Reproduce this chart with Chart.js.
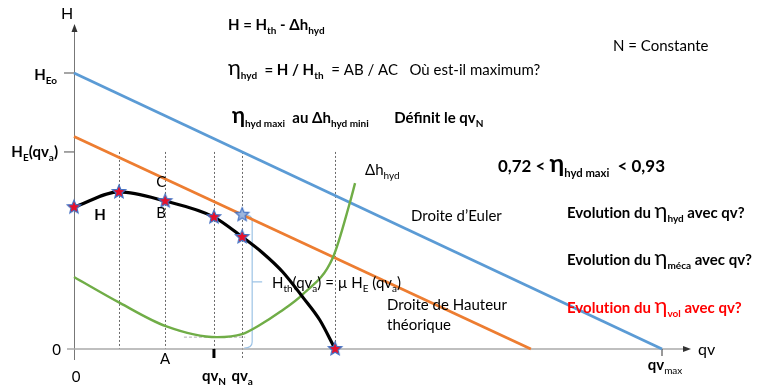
<!DOCTYPE html>
<html><head><meta charset="utf-8">
<script src="https://cdn.jsdelivr.net/npm/chart.js@4"></script>
<style>html,body{margin:0;padding:0;background:#fff;overflow:hidden}canvas{display:block}</style>
</head><body>
<canvas id="c" width="762" height="385"></canvas>
<script>
// qv in % of qv_max, H in % of H_Eo
const eulerQv = [0, 100];            // Droite d'Euler
const eulerH = [100, 0];
const theoQv = [0, 77.7];            // Droite de Hauteur théorique
const theoH = [77, 0];
const headQv = [0, 7.65, 15.5, 23.8, 28.6, 32.1, 35.5, 38.9, 41.8, 44.4];   // courbe H
const headH = [51.4, 56.9, 53.6, 47.8, 40.6, 34.8, 27.9, 18.8, 10.5, 0];
const lossQv = [0, 7.8, 15.6, 24.3, 28.6, 31.6, 35.0, 38.8, 44.0, 46.9, 47.8]; // Δh_hyd
const lossH = [26.1, 16.7, 8.3, 4.3, 5.4, 8.7, 13.4, 19.6, 33.0, 52.9, 60.1];
const markedIdx = [0, 1, 2, 3, 4, 9];   // points marqués sur H
const guideIdx = [1, 2, 3, 4, 9];       // verticales pointillées
const idxA = 2, idxN = 3, idxQa = 4, idxLossMin = 3;

const pts = (xs, ys) => xs.map((x, i) => ({x, y: ys[i]}));
function lineAt(xs, ys, q) {
  const t = (q - xs[0]) / (xs[1] - xs[0]);
  return ys[0] + t * (ys[1] - ys[0]);
}
const qvN = headQv[idxN], qvA = headQv[idxQa];
const hEqa = lineAt(eulerQv, eulerH, qvA);
const hThqa = lineAt(theoQv, theoH, qvA);

function starImg(fill, stroke, r) {
  const s = Math.ceil(r * 2 + 4);
  const c = document.createElement('canvas');
  c.width = c.height = s;
  const g = c.getContext('2d');
  g.beginPath();
  for (let i = 0; i < 10; i++) {
    const rad = i % 2 ? r * 0.45 : r;
    const a = -Math.PI / 2 + i * Math.PI / 5;
    g.lineTo(s / 2 + rad * Math.cos(a), s / 2 + rad * Math.sin(a));
  }
  g.closePath();
  g.fillStyle = fill; g.fill();
  g.lineWidth = 1.2; g.strokeStyle = stroke; g.stroke();
  return c;
}
const redStar = starImg('#E8102A', '#4472C4', 7);
const blueStar = starImg('#9DB6DD', '#4472C4', 7);

const FONT = 'Lato, "Open Sans", sans-serif';
const ST = {
  r: {w: '400', s: 15, dy: 0}, b: {w: '700', s: 15, dy: 0},
  sr: {w: '400', s: 10, dy: 4}, sb: {w: '700', s: 10, dy: 4},
  e: {w: '400', s: 22, dy: 0}, eb: {w: '700', s: 22, dy: 0},
  big: {w: '400', s: 16, dy: 0}
};
const fnt = (st, k) => `${st.w} ${st.s * k}px ${FONT}`;
function richWidth(ctx, parts, k) {
  let w = 0;
  for (const [t, key] of parts) { ctx.font = fnt(ST[key], k); w += ctx.measureText(t).width; }
  return w;
}
function rich(ctx, x, y, parts, color = '#000', align = 'left', k = 1) {
  if (align !== 'left') { const w = richWidth(ctx, parts, k); x -= align === 'right' ? w : w / 2; }
  ctx.fillStyle = color; ctx.textAlign = 'left'; ctx.textBaseline = 'alphabetic';
  for (const [t, key] of parts) {
    const st = ST[key]; ctx.font = fnt(st, k);
    ctx.fillText(t, x, y + st.dy * k);
    x += ctx.measureText(t).width;
  }
}
const EVO = 'Evolut\u200Cion du ';

const axesPlugin = {
  id: 'axes',
  beforeDatasetsDraw(chart) {
    const {ctx, scales: {x, y}} = chart;
    const x0 = x.getPixelForValue(0), y0 = y.getPixelForValue(0);
    const yTop = y.getPixelForValue(hEqa);
    ctx.save();
    // verticales pointillées
    ctx.strokeStyle = '#444'; ctx.lineWidth = 0.8; ctx.setLineDash([2, 2]);
    for (const i of guideIdx) {
      const px = Math.round(x.getPixelForValue(headQv[i])) + 0.5;
      ctx.beginPath(); ctx.moveTo(px, yTop);
      ctx.lineTo(px, i === idxQa ? y0 + 11 : y0); ctx.stroke();
    }
    // palier mini de Δh
    ctx.strokeStyle = '#999'; ctx.setLineDash([3, 2]);
    const yMin = y.getPixelForValue(lossH[idxLossMin]);
    ctx.beginPath(); ctx.moveTo(x.getPixelForValue(qvN) - 30, yMin);
    ctx.lineTo(x.getPixelForValue(qvA) + 3, yMin); ctx.stroke();
    ctx.setLineDash([]);
    // axe H
    ctx.strokeStyle = '#777'; ctx.lineWidth = 1;
    ctx.beginPath(); ctx.moveTo(x0 + 0.5, y0 + 11); ctx.lineTo(x0 + 0.5, 30); ctx.stroke();
    ctx.fillStyle = '#333';
    ctx.beginPath(); ctx.moveTo(x0 + 0.5, 24); ctx.lineTo(x0 - 2.5, 32); ctx.lineTo(x0 + 3.5, 32); ctx.closePath(); ctx.fill();
    // axe qv
    ctx.strokeStyle = '#aaa'; ctx.lineWidth = 1.5;
    ctx.beginPath(); ctx.moveTo(67, y0); ctx.lineTo(684, y0); ctx.stroke();
    ctx.beginPath(); ctx.moveTo(691, y0); ctx.lineTo(683, y0 - 3); ctx.lineTo(683, y0 + 3); ctx.closePath(); ctx.fill();
    // graduations
    ctx.strokeStyle = '#888'; ctx.lineWidth = 1.5;
    for (const v of [100, hEqa]) {
      const py = y.getPixelForValue(v);
      ctx.beginPath(); ctx.moveTo(x0 - 10, py); ctx.lineTo(x0, py); ctx.stroke();
    }
    const xMax = x.getPixelForValue(eulerQv[1]);
    ctx.strokeStyle = '#333'; ctx.lineWidth = 1;
    ctx.beginPath(); ctx.moveTo(xMax, y0); ctx.lineTo(xMax, y0 + 7); ctx.stroke();
    const xn = x.getPixelForValue(qvN);
    ctx.strokeStyle = '#000'; ctx.lineWidth = 3;
    ctx.beginPath(); ctx.moveTo(xn, y0); ctx.lineTo(xn, y0 + 9); ctx.stroke();
    // accolade H_th(qv_a)
    const xa = x.getPixelForValue(qvA), yTh = y.getPixelForValue(hThqa);
    const yMid = (yTh + y0) / 2;
    ctx.strokeStyle = '#9DC3E6'; ctx.lineWidth = 1.2;
    ctx.beginPath();
    ctx.moveTo(xa + 2, yTh); ctx.quadraticCurveTo(xa + 10, yTh, xa + 10, yTh + 6);
    ctx.lineTo(xa + 10, y0 - 7); ctx.quadraticCurveTo(xa + 10, y0 - 1, xa + 2, y0 - 1);
    ctx.moveTo(xa + 10, yMid); ctx.lineTo(xa + 20, yMid);
    ctx.stroke();
    ctx.restore();
  }
};

const textPlugin = {
  id: 'texts',
  afterDraw(chart) {
    const {ctx, scales: {x, y}} = chart;
    const x0 = x.getPixelForValue(0), y0 = y.getPixelForValue(0);
    ctx.save();
    rich(ctx, 228, 30, [['H = H', 'b'], ['th', 'sb'], [' - Δh', 'b'], ['hyd', 'sb']]);
    rich(ctx, 228, 75, [['η', 'e'], ['hyd', 'sb'], ['  = H / H', 'b'], ['th', 'sb'], ['  = AB / AC   Où est-il maximum?', 'r']]);
    rich(ctx, 232, 123, [['η', 'eb'], ['hyd maxi', 'sb'], ['  au Δh', 'b'], ['hyd mini', 'sb'], ['       Définit le qv', 'b'], ['N', 'sb']]);
    rich(ctx, 613, 51, [['N = Constante', 'r']]);
    rich(ctx, 498, 172, [['0,72 < ', 'b'], ['η', 'eb'], ['hyd maxi', 'sb'], ['  < 0,93', 'b']], '#000', 'left', 1.13);
    rich(ctx, 411, 221, [['Droite d’Euler', 'r']]);
    rich(ctx, 387, 310, [['Droite de Hauteur', 'r']]);
    rich(ctx, 387, 330, [['théorique', 'r']]);
    rich(ctx, 567, 218, [[EVO, 'b'], ['η', 'e'], ['hyd', 'sb'], [' avec qv?', 'b']]);
    rich(ctx, 567, 265, [[EVO, 'b'], ['η', 'e'], ['méca', 'sb'], [' avec qv?', 'b']]);
    rich(ctx, 567, 313, [[EVO, 'b'], ['η', 'e'], ['vol', 'sb'], [' avec qv?', 'b']], '#FF0000');
    rich(ctx, 365, 175, [['Δh', 'r'], ['hyd', 'sr']]);
    rich(ctx, 272, 288, [['H', 'r'], ['th', 'sr'], ['(qv', 'r'], ['a', 'sr'], [') = µ H', 'r'], ['E', 'sr'], [' (qv', 'r'], ['a', 'sr'], [')', 'r']]);
    // repères sur la courbe
    const xA = x.getPixelForValue(headQv[idxA]);
    rich(ctx, 100, 220, [['H', 'b']], '#000', 'center');
    rich(ctx, xA - 4, 218, [['B', 'r']], '#000', 'center');
    rich(ctx, xA - 4, y.getPixelForValue(lineAt(theoQv, theoH, headQv[idxA])) + 8, [['C', 'r']], '#000', 'center');
    // axes
    rich(ctx, x0 - 7, 19, [['H', 'big']], '#000', 'center');
    rich(ctx, 698, y0 + 6, [['qv', 'big']]);
    rich(ctx, x0 - 17, y.getPixelForValue(100) + 7, [['H', 'b'], ['Eo', 'sb']], '#000', 'right');
    rich(ctx, x0 - 16, y.getPixelForValue(hEqa) + 5, [['H', 'b'], ['E', 'sb'], ['(qv', 'b'], ['a', 'sb'], [')', 'b']], '#000', 'right');
    rich(ctx, x0 - 13, y0 + 6, [['0', 'r']], '#000', 'right');
    rich(ctx, x0 + 2, y0 + 33, [['0', 'r']], '#000', 'center');
    rich(ctx, xA, y0 + 15, [['A', 'r']], '#000', 'center');
    rich(ctx, x.getPixelForValue(qvN), y0 + 32, [['qv', 'b'], ['N', 'sb']], '#000', 'center');
    rich(ctx, x.getPixelForValue(qvA), y0 + 32, [['qv', 'b'], ['a', 'sb']], '#000', 'center');
    rich(ctx, x.getPixelForValue(eulerQv[1]) + 3, y0 + 21, [['qv', 'b'], ['max', 'sr']], '#000', 'center');
    ctx.restore();
  }
};

// échelles : 0 de qv à x=74 px, 0 de H à y=349 px
const PX_PER_QV = 5.88, PX_PER_H = 2.76;
const X_MIN = -74 / PX_PER_QV, X_MAX = X_MIN + 762 / PX_PER_QV;
const Y_MIN = -36 / PX_PER_H, Y_MAX = Y_MIN + 385 / PX_PER_H;

new Chart(document.getElementById('c'), {
  type: 'scatter',
  data: {
    datasets: [
      {data: markedIdx.map(i => ({x: headQv[i], y: headH[i]})), pointStyle: redStar, pointRadius: 7, showLine: false, clip: false},
      {data: [{x: qvA, y: hThqa}], pointStyle: blueStar, pointRadius: 7, showLine: false, clip: false},
      {data: pts(headQv, headH), showLine: true, borderColor: '#000', borderWidth: 3.2, pointRadius: 0, cubicInterpolationMode: 'monotone', clip: false},
      {data: pts(lossQv, lossH), showLine: true, borderColor: '#70AD47', borderWidth: 2.4, pointRadius: 0, cubicInterpolationMode: 'monotone', clip: false},
      {data: pts(theoQv, theoH), showLine: true, borderColor: '#ED7D31', borderWidth: 2.8, pointRadius: 0, clip: false},
      {data: pts(eulerQv, eulerH), showLine: true, borderColor: '#5B9BD5', borderWidth: 2.8, pointRadius: 0, clip: false}
    ]
  },
  options: {
    responsive: false, animation: false, events: [],
    layout: {padding: 0, autoPadding: false},
    plugins: {legend: {display: false}, tooltip: {enabled: false}},
    scales: {
      x: {type: 'linear', display: false, min: X_MIN, max: X_MAX},
      y: {type: 'linear', display: false, min: Y_MIN, max: Y_MAX}
    }
  },
  plugins: [axesPlugin, textPlugin]
});
</script>
</body></html>
